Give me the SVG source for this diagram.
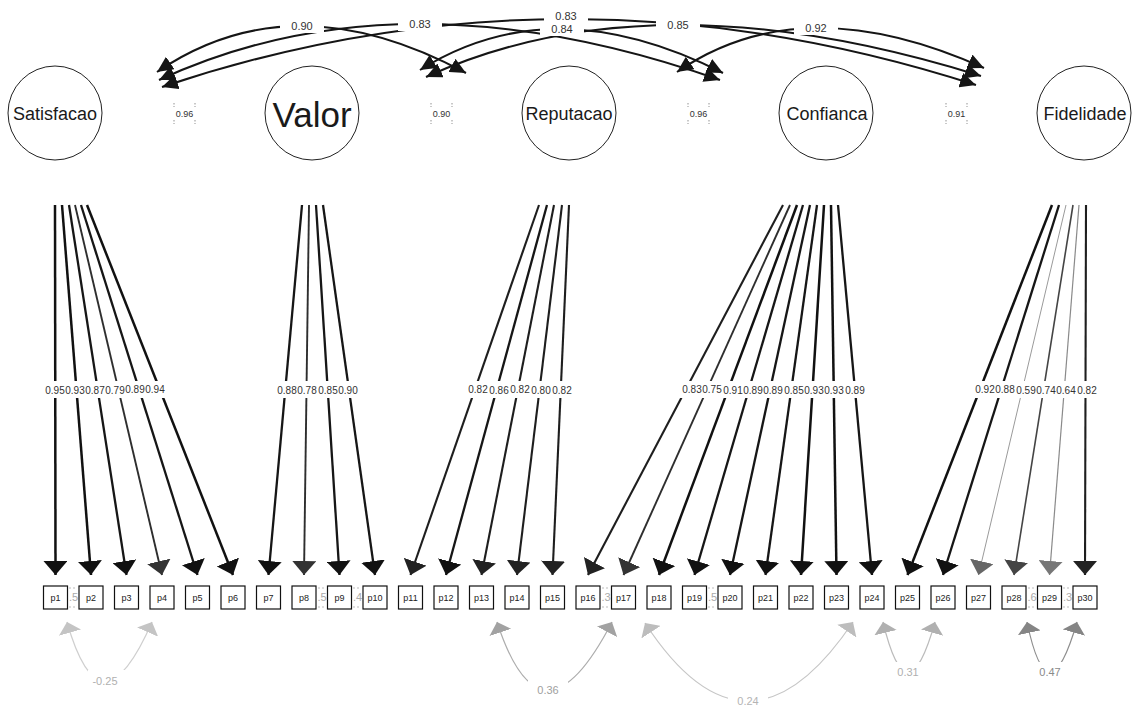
<svg xmlns="http://www.w3.org/2000/svg" width="1132" height="709" viewBox="0 0 1132 709">
<style>
text{font-family:"Liberation Sans",Arial,sans-serif}
.lat{fill:#fff;stroke:#222;stroke-width:1}
.latlbl{font-size:18px;fill:#1a1a1a;text-anchor:middle}
.man{fill:#fff;stroke:#111;stroke-width:1.2}
.manlbl{font-size:9px;fill:#222;text-anchor:middle}
.ld{fill:none}
.e95{stroke:#111;stroke-width:2.5;marker-end:url(#ah1)}
.e88{stroke:#161616;stroke-width:2.3;marker-end:url(#ah1)}
.e82{stroke:#1e1e1e;stroke-width:2.1;marker-end:url(#ah2)}
.e78{stroke:#2e2e2e;stroke-width:1.9;marker-end:url(#ah3)}
.e74{stroke:#444;stroke-width:1.6;marker-end:url(#ah4)}
.e64{stroke:#8a8a8a;stroke-width:1.2;marker-end:url(#ah7)}
.e59{stroke:#9a9a9a;stroke-width:1;marker-end:url(#ah6)}
.cov{fill:none;stroke:#151515;stroke-width:2;marker-start:url(#cv);marker-end:url(#cv)}
.bg{fill:#fff}
.ll{font-size:10px;fill:#333;text-anchor:middle}
.cl{font-size:11px;fill:#333;text-anchor:middle}
.rl{font-size:11px;text-anchor:middle}
.res{font-size:9px;fill:#333;text-anchor:middle}
.dots{fill:none;stroke:#777;stroke-width:0.8;stroke-dasharray:1.5 1.5}
.gap{font-size:11px;fill:#aaa;text-anchor:middle}
.gdots{fill:none;stroke:#aaa;stroke-width:0.8;stroke-dasharray:2 2}
.rc{fill:none;stroke-width:1.2}
</style>
<defs>
<marker id="ah1" viewBox="0 0 14 24" refX="14" refY="12" markerWidth="14" markerHeight="24" markerUnits="userSpaceOnUse" orient="auto"><path d="M0,0L14,12L0,24z" fill="#111"/></marker>
<marker id="ah2" viewBox="0 0 14 24" refX="14" refY="12" markerWidth="14" markerHeight="24" markerUnits="userSpaceOnUse" orient="auto"><path d="M0,0L14,12L0,24z" fill="#222"/></marker>
<marker id="ah3" viewBox="0 0 14 24" refX="14" refY="12" markerWidth="14" markerHeight="24" markerUnits="userSpaceOnUse" orient="auto"><path d="M0,0L14,12L0,24z" fill="#333"/></marker>
<marker id="ah4" viewBox="0 0 14 24" refX="14" refY="12" markerWidth="14" markerHeight="24" markerUnits="userSpaceOnUse" orient="auto"><path d="M0,0L14,12L0,24z" fill="#444"/></marker>
<marker id="ah6" viewBox="0 0 14 24" refX="14" refY="12" markerWidth="14" markerHeight="24" markerUnits="userSpaceOnUse" orient="auto"><path d="M0,0L14,12L0,24z" fill="#666"/></marker>
<marker id="ah7" viewBox="0 0 14 24" refX="14" refY="12" markerWidth="14" markerHeight="24" markerUnits="userSpaceOnUse" orient="auto"><path d="M0,0L14,12L0,24z" fill="#777"/></marker>
<marker id="cv" viewBox="0 0 16 15" refX="16" refY="7.5" markerWidth="16" markerHeight="15" markerUnits="userSpaceOnUse" orient="auto-start-reverse"><path d="M0,0L16,7.5L0,15z" fill="#151515"/></marker>
<marker id="rg1" viewBox="0 0 11 23" refX="11" refY="11.5" markerWidth="11" markerHeight="23" markerUnits="userSpaceOnUse" orient="auto-start-reverse"><path d="M0,0L11,11.5L0,23z" fill="#c4c4c4"/></marker>
<marker id="rg2" viewBox="0 0 11 23" refX="11" refY="11.5" markerWidth="11" markerHeight="23" markerUnits="userSpaceOnUse" orient="auto-start-reverse"><path d="M0,0L11,11.5L0,23z" fill="#a2a2a2"/></marker>
<marker id="rg3" viewBox="0 0 11 23" refX="11" refY="11.5" markerWidth="11" markerHeight="23" markerUnits="userSpaceOnUse" orient="auto-start-reverse"><path d="M0,0L11,11.5L0,23z" fill="#bdbdbd"/></marker>
<marker id="rg4" viewBox="0 0 11 23" refX="11" refY="11.5" markerWidth="11" markerHeight="23" markerUnits="userSpaceOnUse" orient="auto-start-reverse"><path d="M0,0L11,11.5L0,23z" fill="#b0b0b0"/></marker>
<marker id="rg5" viewBox="0 0 11 23" refX="11" refY="11.5" markerWidth="11" markerHeight="23" markerUnits="userSpaceOnUse" orient="auto-start-reverse"><path d="M0,0L11,11.5L0,23z" fill="#858585"/></marker>
</defs>
<rect width="1132" height="709" fill="#fff"/>

<g id="connectors">
  <!-- factor loadings -->
  <g id="loadings" class="ld">
    <path class="e95" d="M55,205L55.5,575"/>
    <path class="e95" d="M62,205L91,575"/>
    <path class="e88" d="M69,205L126.5,575"/>
    <path class="e78" d="M75,205L162,575"/>
    <path class="e88" d="M81,205L197.5,575"/>
    <path class="e95" d="M87,205L233,575"/>
    <path class="e88" d="M302,205L268.5,575"/>
    <path class="e78" d="M309,205L304,575"/>
    <path class="e88" d="M316,205L339.5,575"/>
    <path class="e88" d="M323,205L375,575"/>
    <path class="e82" d="M539,205L410.5,575"/>
    <path class="e88" d="M547,205L446,575"/>
    <path class="e82" d="M554,205L481.5,575"/>
    <path class="e82" d="M562,205L517,575"/>
    <path class="e82" d="M569,205L552.5,575"/>
    <path class="e82" d="M783,205L588,575"/>
    <path class="e78" d="M790,205L623.5,575"/>
    <path class="e95" d="M797,205L659,575"/>
    <path class="e88" d="M803,205L694.5,575"/>
    <path class="e88" d="M810,205L730,575"/>
    <path class="e88" d="M817,205L765.5,575"/>
    <path class="e95" d="M824,205L801,575"/>
    <path class="e95" d="M831,205L836.5,575"/>
    <path class="e88" d="M838,205L872,575"/>
    <path class="e95" d="M1052,205L907.5,575"/>
    <path class="e88" d="M1059,205L943,575"/>
    <path class="e59" d="M1066,205L978.5,575"/>
    <path class="e74" d="M1073,205L1014,575"/>
    <path class="e64" d="M1079,205L1049.5,575"/>
    <path class="e82" d="M1086,205L1085,575"/>
  </g>
  <!-- latent covariances -->
  <g id="covariances">
    <path class="cov" d="M157,72Q292.5,-20.5 466,73"/>
    <path class="cov" d="M159,80Q400.5,-32 720,80"/>
    <path class="cov" d="M162,87Q563,-48 976,85"/>
    <path class="cov" d="M420,70Q552.5,-13.5 723,73"/>
    <path class="cov" d="M426,77Q652.5,-26.5 981,76"/>
    <path class="cov" d="M677,72Q801.5,-14 984,68"/>
  </g>
  <!-- residual covariances -->
  <g id="residual-covariances">
    <path class="rc" stroke="#cfcfcf" marker-start="url(#rg1)" marker-end="url(#rg1)" d="M67,622Q100.5,740 152,622"/>
    <path class="rc" stroke="#adadad" marker-start="url(#rg2)" marker-end="url(#rg2)" d="M497,622Q541.5,758 612,622"/>
    <path class="rc" stroke="#c6c6c6" marker-start="url(#rg3)" marker-end="url(#rg3)" d="M645,623Q747,779.5 853,622"/>
    <path class="rc" stroke="#bbbbbb" marker-start="url(#rg4)" marker-end="url(#rg4)" d="M883,622Q907,722 935,622"/>
    <path class="rc" stroke="#8e8e8e" marker-start="url(#rg5)" marker-end="url(#rg5)" d="M1027,622Q1048,722 1077,622"/>
  </g>
  <!-- label backgrounds -->
  <g id="label-backgrounds" class="bg">
    <rect x="43" y="381" width="124" height="17"/>
    <rect x="275" y="381" width="85" height="17"/>
    <rect x="466" y="381" width="108" height="17"/>
    <rect x="680" y="381" width="187" height="17"/>
    <rect x="973" y="381" width="126" height="17"/>
    <rect x="280" y="19" width="44" height="14"/>
    <rect x="398" y="17" width="44" height="14"/>
    <rect x="544" y="11" width="44" height="13"/>
    <rect x="540" y="23" width="44" height="13"/>
    <rect x="656" y="18" width="44" height="14"/>
    <rect x="794" y="21" width="44" height="14"/>
    <rect x="88" y="670" width="40" height="22"/>
    <rect x="528" y="679" width="40" height="22"/>
    <rect x="728" y="690" width="40" height="22"/>
    <rect x="892" y="662" width="32" height="20"/>
    <rect x="1034" y="662" width="32" height="20"/>
  </g>
  <!-- loading labels -->
  <g id="loading-labels" class="ll">
    <text x="55" y="394">0.95</text>
    <text x="75" y="394">0.93</text>
    <text x="95" y="394">0.87</text>
    <text x="115" y="394">0.79</text>
    <text x="135" y="393">0.89</text>
    <text x="155" y="393">0.94</text>
    <text x="287" y="394">0.88</text>
    <text x="307" y="394">0.78</text>
    <text x="328" y="394">0.85</text>
    <text x="348" y="394">0.90</text>
    <text x="478" y="393">0.82</text>
    <text x="499" y="394">0.86</text>
    <text x="520" y="393">0.82</text>
    <text x="541" y="394">0.80</text>
    <text x="562" y="394">0.82</text>
    <text x="692" y="393">0.83</text>
    <text x="712" y="393">0.75</text>
    <text x="733" y="394">0.91</text>
    <text x="753" y="394">0.89</text>
    <text x="773" y="394">0.89</text>
    <text x="794" y="394">0.85</text>
    <text x="814" y="394">0.93</text>
    <text x="834" y="394">0.93</text>
    <text x="855" y="394">0.89</text>
    <text x="985" y="393">0.92</text>
    <text x="1005" y="393">0.88</text>
    <text x="1026" y="394">0.59</text>
    <text x="1046" y="394">0.74</text>
    <text x="1066" y="394">0.64</text>
    <text x="1087" y="394">0.82</text>
  </g>
  <!-- covariance labels -->
  <g id="covariance-labels" class="cl">
    <text x="302" y="30">0.90</text>
    <text x="420" y="28">0.83</text>
    <text x="566" y="20">0.83</text>
    <text x="562" y="32.5">0.84</text>
    <text x="678" y="29">0.85</text>
    <text x="816" y="32">0.92</text>
  </g>
  <g id="residual-labels" class="rl">
    <text x="105" y="685" fill="#b0b0b0">-0.25</text>
    <text x="548" y="694" fill="#a0a0a0">0.36</text>
    <text x="748" y="705" fill="#b4b4b4">0.24</text>
    <text x="908" y="676" fill="#b0b0b0">0.31</text>
    <text x="1050" y="676" fill="#8a8a8a">0.47</text>
  </g>
  <!-- residual variance marks between indicators -->
  <g id="indicator-residuals">
    <path class="gdots" d="M69,588h8M69,607h8M318,588h8M318,607h8M353,588h8M353,607h8M602,588h8M602,607h8M708,588h8M708,607h8M1028,588h8M1028,607h8M1063,588h8M1063,607h8"/>
    <text class="gap" x="73.5" y="601">.5</text>
    <text class="gap" x="322" y="601">.5</text>
    <text class="gap" x="357.5" y="601">.4</text>
    <text class="gap" x="606" y="601" fill="#bbb">.3</text>
    <text class="gap" x="712.5" y="601">.5</text>
    <text class="gap" x="1032" y="601">.6</text>
    <text class="gap" x="1067.5" y="601" fill="#bbb">.3</text>
  </g>
  <!-- residual variance marks between factors -->
  <g id="factor-residuals">
    <path class="dots" d="M174,103v4M195,103v4M174,120v4M195,120v4M431,103v4M452,103v4M431,120v4M452,120v4M688,103v4M709,103v4M688,120v4M709,120v4M946,103v4M967,103v4M946,120v4M967,120v4"/>
    <text class="res" x="184.5" y="117">0.96</text>
    <text class="res" x="441.5" y="117">0.90</text>
    <text class="res" x="698.5" y="117">0.96</text>
    <text class="res" x="956.5" y="117">0.91</text>
  </g>
</g>

<!-- latent factors -->
<g id="Satisfacao"><circle class="lat" cx="55" cy="113" r="47"/><text class="latlbl" x="55" y="120">Satisfacao</text></g>
<g id="Valor"><circle class="lat" cx="312" cy="113" r="47"/><text class="latlbl" x="312" y="126.5" style="font-size:35px">Valor</text></g>
<g id="Reputacao"><circle class="lat" cx="569" cy="113" r="47"/><text class="latlbl" x="569" y="120">Reputacao</text></g>
<g id="Confianca"><circle class="lat" cx="826" cy="113" r="47"/><text class="latlbl" x="827" y="120">Confianca</text></g>
<g id="Fidelidade"><circle class="lat" cx="1084" cy="113" r="47"/><text class="latlbl" x="1085" y="120">Fidelidade</text></g>

<!-- observed indicators -->
<g id="p1"><rect class="man" x="43.5" y="586" width="24" height="23"/><text class="manlbl" x="55.5" y="601">p1</text></g>
<g id="p2"><rect class="man" x="79" y="586" width="24" height="23"/><text class="manlbl" x="91" y="601">p2</text></g>
<g id="p3"><rect class="man" x="114.5" y="586" width="24" height="23"/><text class="manlbl" x="126.5" y="601">p3</text></g>
<g id="p4"><rect class="man" x="150" y="586" width="24" height="23"/><text class="manlbl" x="162" y="601">p4</text></g>
<g id="p5"><rect class="man" x="185.5" y="586" width="24" height="23"/><text class="manlbl" x="197.5" y="601">p5</text></g>
<g id="p6"><rect class="man" x="221" y="586" width="24" height="23"/><text class="manlbl" x="233" y="601">p6</text></g>
<g id="p7"><rect class="man" x="256.5" y="586" width="24" height="23"/><text class="manlbl" x="268.5" y="601">p7</text></g>
<g id="p8"><rect class="man" x="292" y="586" width="24" height="23"/><text class="manlbl" x="304" y="601">p8</text></g>
<g id="p9"><rect class="man" x="327.5" y="586" width="24" height="23"/><text class="manlbl" x="339.5" y="601">p9</text></g>
<g id="p10"><rect class="man" x="363" y="586" width="24" height="23"/><text class="manlbl" x="375" y="601">p10</text></g>
<g id="p11"><rect class="man" x="398.5" y="586" width="24" height="23"/><text class="manlbl" x="410.5" y="601">p11</text></g>
<g id="p12"><rect class="man" x="434" y="586" width="24" height="23"/><text class="manlbl" x="446" y="601">p12</text></g>
<g id="p13"><rect class="man" x="469.5" y="586" width="24" height="23"/><text class="manlbl" x="481.5" y="601">p13</text></g>
<g id="p14"><rect class="man" x="505" y="586" width="24" height="23"/><text class="manlbl" x="517" y="601">p14</text></g>
<g id="p15"><rect class="man" x="540.5" y="586" width="24" height="23"/><text class="manlbl" x="552.5" y="601">p15</text></g>
<g id="p16"><rect class="man" x="576" y="586" width="24" height="23"/><text class="manlbl" x="588" y="601">p16</text></g>
<g id="p17"><rect class="man" x="611.5" y="586" width="24" height="23"/><text class="manlbl" x="623.5" y="601">p17</text></g>
<g id="p18"><rect class="man" x="647" y="586" width="24" height="23"/><text class="manlbl" x="659" y="601">p18</text></g>
<g id="p19"><rect class="man" x="682.5" y="586" width="24" height="23"/><text class="manlbl" x="694.5" y="601">p19</text></g>
<g id="p20"><rect class="man" x="718" y="586" width="24" height="23"/><text class="manlbl" x="730" y="601">p20</text></g>
<g id="p21"><rect class="man" x="753.5" y="586" width="24" height="23"/><text class="manlbl" x="765.5" y="601">p21</text></g>
<g id="p22"><rect class="man" x="789" y="586" width="24" height="23"/><text class="manlbl" x="801" y="601">p22</text></g>
<g id="p23"><rect class="man" x="824.5" y="586" width="24" height="23"/><text class="manlbl" x="836.5" y="601">p23</text></g>
<g id="p24"><rect class="man" x="860" y="586" width="24" height="23"/><text class="manlbl" x="872" y="601">p24</text></g>
<g id="p25"><rect class="man" x="895.5" y="586" width="24" height="23"/><text class="manlbl" x="907.5" y="601">p25</text></g>
<g id="p26"><rect class="man" x="931" y="586" width="24" height="23"/><text class="manlbl" x="943" y="601">p26</text></g>
<g id="p27"><rect class="man" x="966.5" y="586" width="24" height="23"/><text class="manlbl" x="978.5" y="601">p27</text></g>
<g id="p28"><rect class="man" x="1002" y="586" width="24" height="23"/><text class="manlbl" x="1014" y="601">p28</text></g>
<g id="p29"><rect class="man" x="1037.5" y="586" width="24" height="23"/><text class="manlbl" x="1049.5" y="601">p29</text></g>
<g id="p30"><rect class="man" x="1073" y="586" width="24" height="23"/><text class="manlbl" x="1085" y="601">p30</text></g>
</svg>
